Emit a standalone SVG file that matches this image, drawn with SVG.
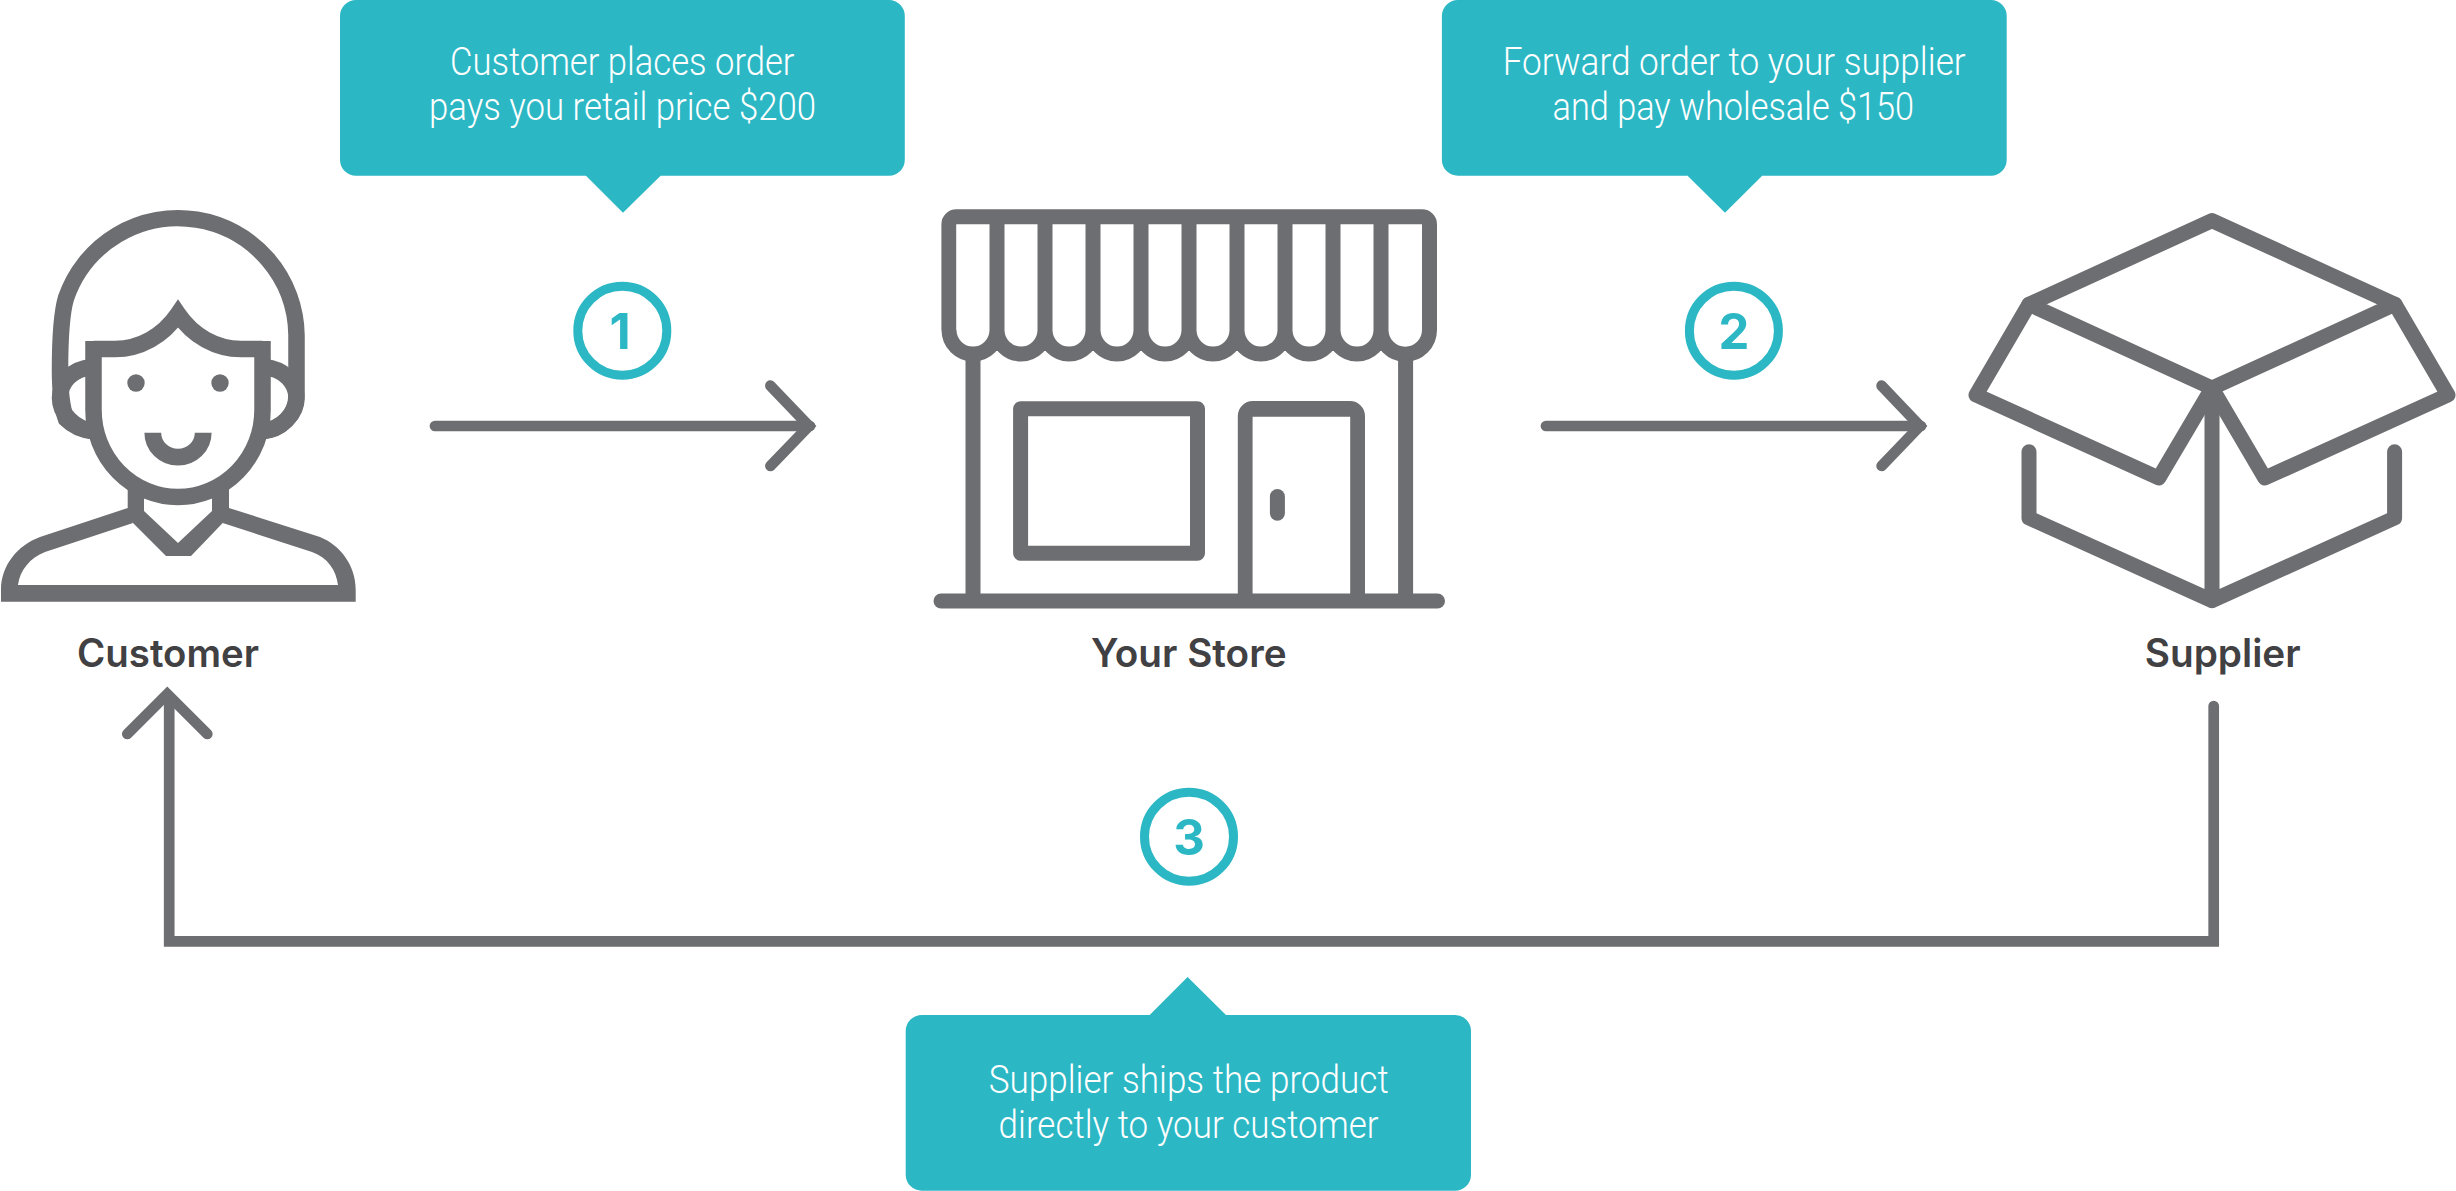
<svg xmlns="http://www.w3.org/2000/svg" width="2456" height="1191" viewBox="0 0 2456 1191">
<style>
.ln{fill:none;stroke:#6D6E71;stroke-width:15;stroke-linejoin:miter;stroke-miterlimit:10}
.hd{stroke-width:16.5}
.bx{stroke-width:15;stroke-linecap:round;stroke-linejoin:round}
.rd{stroke-linecap:round;stroke-linejoin:round}
.fl{fill:#6D6E71;stroke:none}
.co{fill:#2BB7C4}
.ct{font-family:"Roboto","Liberation Sans",sans-serif;font-weight:300;font-size:38px;fill:#fff}
.lb{font-family:"Inter","Liberation Sans",sans-serif;font-weight:600;font-size:39px;fill:#414042}
.bc{fill:#fff;stroke:#2BB7C4;stroke-width:9}
.bd{font-family:"Inter","Liberation Sans",sans-serif;font-weight:700;font-size:49px;fill:#2BB7C4;text-anchor:middle}
.cn{fill:none;stroke:#6D6E71;stroke-width:10.7;stroke-miterlimit:10;stroke-linecap:round}
</style>
<rect width="2456" height="1191" fill="#fff"/>
<g id="connectors">
<path class="cn" d="M435,426H810"/>
<path class="cn" d="M770.4,385.7L809,426L770.4,466"/>
<path class="cn" d="M1546,426H1921"/>
<path class="cn" d="M1881.6,385.7L1920,426L1881.6,466"/>
<path class="cn" d="M2213.7,706V941.3H169.2V700"/>
<path class="cn" d="M127.3,734L167.3,694L207.3,734"/>
</g>
<g id="node-customer">
<path class="ln hd" d="M92,431C82,430 72,425 66,419C61,405 60,390 60,370C60,345 61,315 66,298A118.5,118.5 0 0 1 296.5,335V395C296.5,415 280,431 262,431"/>
<path class="ln hd" d="M92,367C72,369 60,382 60,398C60,414 74,428 92,431M264,367C284,369 296.5,382 296.5,398C296.5,414 282,428 264,431"/>
<path class="ln hd" d="M93.5,349H115C140,349 163,336 178,314C193,336 216,349 241,349H262.5"/>
<path class="ln hd" d="M93.5,341V410A84.5,87 0 0 0 262.5,410V341"/>
<circle class="fl" cx="136" cy="383" r="8.7"/>
<circle class="fl" cx="220" cy="383" r="8.7"/>
<path class="ln" style="stroke-width:16.8" d="M152.8,432.7A25.2,24.5 0 0 0 203.2,432.7"/>
<path class="fl" d="M127.7,488H144V511L178,543L212,511V488H229V515L222.7,523L191,556H166L133,523L127.7,515Z"/>
<path class="fl" d="M127.7,508L40,537C18,545 1,565 1,590V601.7H355.7V590C355.7,565 340,545 320,537L229,508L222.7,523L312,552C328,558 336,570 338,585H18C20,570 30,558 45,552L133,523Z"/>
<text class="lb" x="77" y="667" textLength="182" lengthAdjust="spacingAndGlyphs">Customer</text>
</g>
<g id="node-store">
<path class="fl" d="M941.4,330V224.5A15,15 0 0 1 956.4,209.3H1422A15,15 0 0 1 1437,224.5V330H1422V224.3H956.2V330Z"/>
<path class="ln" d="M949,330A24,24 0 0 0 997,330A24,24 0 0 0 1045,330A24,24 0 0 0 1093,330A24,24 0 0 0 1141,330A24,24 0 0 0 1189,330A24,24 0 0 0 1237,330A24,24 0 0 0 1285,330A24,24 0 0 0 1333,330A24,24 0 0 0 1381,330A24,24 0 0 0 1429.5,330"/>
<path class="ln" d="M997,217V330M1045,217V330M1093,217V330M1141,217V330M1189,217V330M1237,217V330M1285,217V330M1333,217V330M1381,217V330"/>
<path class="ln" d="M973,358V601M1405.6,358V601"/>
<rect class="ln rd" x="1020.6" y="408.8" width="176.9" height="144.4"/>
<path class="fl" d="M1237.8,601V416A15,15 0 0 1 1252.8,401H1350A15,15 0 0 1 1365,416V601H1350.2V416.7H1252.6V601Z"/>
<path class="ln rd" d="M1277.4,496.5V513.2"/>
<path class="ln rd" d="M941,601H1437.5"/>
<text class="lb" x="1091" y="667" textLength="195.6" lengthAdjust="spacingAndGlyphs">Your Store</text>
</g>
<g id="node-supplier">
<path class="ln bx" d="M2212,220.6L2395,304.3L2212,388L2029,304.3Z"/>
<path class="ln bx" d="M2029,304.3L1976,395L2158.8,478L2212,388L2264.8,478L2448,395L2395,304.3"/>
<path class="ln bx" d="M2029,451.7V518L2212,600.7L2394.6,518V451.7M2212,388V600.7"/>
<text class="lb" x="2144.7" y="667" textLength="156" lengthAdjust="spacingAndGlyphs">Supplier</text>
</g>
<g id="callout-1">
<path class="co" d="M356,0H889A16,16 0 0 1 904.8,16V159.7A16,16 0 0 1 889,175.7H660.6L623,212.7L586,175.7H356A16,16 0 0 1 340,159.7V16A16,16 0 0 1 356,0Z"/>
<text class="ct" x="450" y="74.5" textLength="344.5" lengthAdjust="spacingAndGlyphs">Customer places order</text>
<text class="ct" x="429" y="119.5" textLength="387" lengthAdjust="spacingAndGlyphs">pays you retail price $200</text>
</g>
<g id="callout-2">
<path class="co" d="M1458,0H1991A16,16 0 0 1 2006.7,16V159.7A16,16 0 0 1 1991,175.7H1762.2L1725,212.7L1687.6,175.7H1458A16,16 0 0 1 1441.9,159.7V16A16,16 0 0 1 1458,0Z"/>
<text class="ct" x="1502.7" y="74.5" textLength="463" lengthAdjust="spacingAndGlyphs">Forward order to your supplier</text>
<text class="ct" x="1552.5" y="119.5" textLength="361.6" lengthAdjust="spacingAndGlyphs">and pay wholesale $150</text>
</g>
<g id="callout-3">
<path class="co" d="M922,1015H1149.7L1187.6,977L1226,1015H1455A16,16 0 0 1 1471,1031V1174.7A16,16 0 0 1 1455,1190.7H922A16,16 0 0 1 905.7,1174.7V1031A16,16 0 0 1 922,1015Z"/>
<text class="ct" x="988.7" y="1092.5" textLength="400" lengthAdjust="spacingAndGlyphs">Supplier ships the product</text>
<text class="ct" x="998.6" y="1137.5" textLength="380" lengthAdjust="spacingAndGlyphs">directly to your customer</text>
</g>
<g id="badge-1"><circle class="bc" cx="622.3" cy="330.7" r="44.5"/><text class="bd" x="620" y="349">1</text></g>
<g id="badge-2"><circle class="bc" cx="1733.9" cy="330.7" r="44.5"/><text class="bd" x="1734" y="349">2</text></g>
<g id="badge-3"><circle class="bc" cx="1189" cy="836.7" r="44.5"/><text class="bd" x="1189" y="855">3</text></g>
</svg>
